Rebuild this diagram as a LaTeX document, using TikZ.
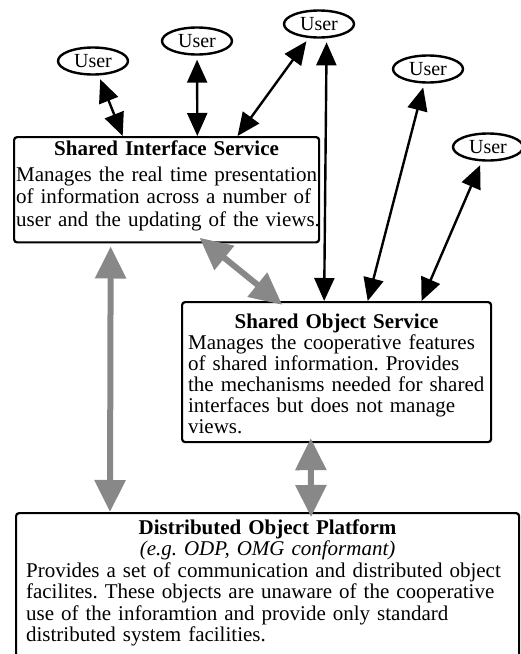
\documentclass[tikz,border=0pt]{standalone}
\usepackage{fontspec}
\setmainfont{Liberation Serif}
\usetikzlibrary{arrows.meta,calc,shapes.geometric}
\definecolor{linkgray}{RGB}{136,136,136}
\frenchspacing

\begin{document}
\begin{tikzpicture}[x=1pt,y=-1pt,
    user/.style={draw,ellipse,line width=2.4pt,minimum width=70pt,minimum height=27pt,
      inner sep=0pt,font=\fontsize{20}{20}\selectfont},
    service/.style={draw,rectangle,rounded corners=3pt,line width=2.2pt,anchor=north west,
      inner ysep=4pt,font=\fontsize{21}{22.5}\selectfont},
    uselink/.style={{Triangle[length=23pt,width=20pt]}-{Triangle[length=23pt,width=20pt]},
      line width=2.4pt,shorten <=4pt},
    baselink/.style={{Triangle[length=32pt,width=30pt]}-{Triangle[length=32pt,width=30pt]},
      line width=6pt,draw=linkgray}]
    \useasboundingbox (0,0) rectangle (521,654);

    % users
    \node[user] (u1) at (93,61)  {User};
    \node[user] (u2) at (197,41) {User};
    \node[user] (u3) at (319,24) {User};
    \node[user] (u4) at (428,69) {User};
    \node[user] (u5) at (488,147) {User};

    % services (the struts set the top and bottom room of each box)
    \node[service,inner xsep=2pt,text width=301pt] (sis) at (13,136)
      {{\centering\bfseries\rule{0pt}{14pt}Shared Interface Service\par}\vspace{3pt}%
       \raggedright \mbox{Manages the real time presentation}\\
       \mbox{of information across a number of}\\
       \mbox{user and the updating of the views.}\rule[-12pt]{0pt}{12pt}};
    \node[service,inner xsep=6pt,text width=297pt,font=\fontsize{21}{21}\selectfont] (sos) at (181,301)
      {{\centering\bfseries\rule{0pt}{22pt}Shared Object Service\par}%
       \raggedright \mbox{Manages the cooperative features}\\
       \mbox{of shared information. Provides}\\
       \mbox{the mechanisms needed for shared}\\
       \mbox{interfaces but does not manage}\\
       views.\rule[-5pt]{0pt}{5pt}};
    \node[service,inner xsep=10pt,text width=483pt,font=\fontsize{21}{21.5}\selectfont] (dop) at (15,512)
      {{\centering\bfseries\rule{0pt}{17pt}Distributed Object Platform\par}%
       {\centering\itshape (e.g. ODP, OMG conformant)\par}%
       \raggedright \mbox{Provides a set of communication and distributed object}\\
       \mbox{facilites. These objects are unaware of the cooperative}\\
       \mbox{use of the inforamtion and provide only standard}\\
       \mbox{distributed system facilities.}\rule[-30pt]{0pt}{30pt}};

    % users to services
    \draw[uselink] (u1) -- ($(sis.north west)!.357!(sis.north east)$);
    \draw[uselink] (u2) -- ($(sis.north west)!.6!(sis.north east)$);
    \draw[uselink] (u3) -- ($(sis.north west)!.731!(sis.north east)$);
    \draw[uselink] (u3.-62) -- ($(sos.north west)!.46!(sos.north east)$);
    \draw[uselink] (u4) -- ($(sos.north west)!.6!(sos.north east)$);
    \draw[uselink] (u5) -- ($(sos.north west)!.773!(sos.north east)$);

    % services to platform
    \draw[baselink,shorten <=-9pt,shorten >=-6pt] ($(sis.south west)!.63!(sis.south east)$)
      -- ($(sos.north west)!.31!(sos.north east)$);
    \draw[baselink,shorten <=3pt] ($(sis.south west)!.318!(sis.south east)$)
      -- ($(dop.north west)!.188!(dop.north east)$);
    \draw[baselink,shorten <=-5pt,shorten >=-5pt] ($(sos.south west)!.417!(sos.south east)$)
      -- ($(dop.north west)!.586!(dop.north east)$);
\end{tikzpicture}
\end{document}
